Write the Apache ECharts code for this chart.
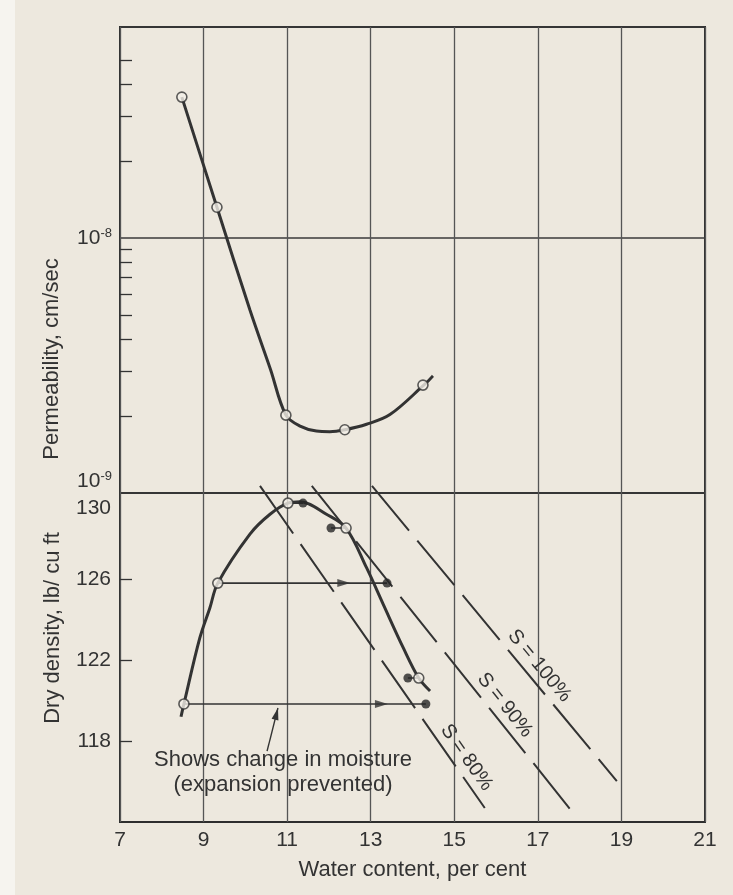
<!DOCTYPE html>
<html>
<head>
<meta charset="utf-8">
<title>Permeability and dry density vs water content</title>
<script src="https://cdn.jsdelivr.net/npm/echarts@6/dist/echarts.min.js"></script>
<style>
  html, body { margin: 0; padding: 0; }
  body { background: linear-gradient(to right, #f6f4ef 0, #f6f4ef 15px, #ede8de 15px); }
  #chart { width: 733px; height: 895px; }
</style>
</head>
<body>
<div id="chart"></div>
<script>
// x axis, water content in per cent
const waterTicks = [7, 9, 11, 13, 15, 17, 19, 21];

// permeability tests (cm/sec)
const permWater = [8.48, 9.32, 10.97, 12.38, 14.25];
const permValue = [3.57e-8, 1.32e-8, 2.02e-9, 1.77e-9, 2.65e-9];
// the drawn curve through them
const permCurveWater = [8.48, 9.32, 10.11, 10.6, 10.97, 11.31, 11.70, 12.02, 12.38, 12.90, 13.46, 14.25, 14.49];
const permCurveValue = [3.57e-8, 1.32e-8, 5.22e-9, 3.06e-9, 2.02e-9, 1.83e-9, 1.75e-9, 1.74e-9, 1.77e-9, 1.86e-9, 2.03e-9, 2.63e-9, 2.88e-9];
const permMinorTicks = [2e-9, 3e-9, 4e-9, 5e-9, 6e-9, 7e-9, 8e-9, 9e-9, 2e-8, 3e-8, 4e-8, 5e-8];

// compaction (open circles) and after soaking (filled circles), lb/cu ft
const mouldWater = [8.53, 9.34, 11.02, 12.41, 14.15];
const mouldDensity = [119.83, 125.8, 129.75, 128.52, 121.11];
const soakWater = [14.32, 13.39, 11.38, 12.05, 13.89];
const arrowTipWater = [13.4, 12.5, null, null, null];
// the drawn compaction curve
const compCurveWater = [8.46, 8.53, 8.91, 9.15, 9.34, 10.11, 10.59, 11.02, 11.31, 11.94, 12.41, 12.90, 13.30, 13.78, 14.15, 14.42];
const compCurveDensity = [119.2, 119.83, 123.09, 124.57, 125.8, 128.22, 129.2, 129.75, 129.82, 129.2, 128.52, 126.56, 124.75, 122.6, 121.11, 120.47];
const densityTicks = [118, 122, 126];

// lines of equal saturation
const satLabels = ['S = 80%', 'S = 90%', 'S = 100%'];
const satWaterStart = [10.35, 11.59, 13.03];
const satWaterEnd = [15.73, 17.81, 18.89];
const satDensityStart = [130.6, 130.6, 130.6];
const satDensityEnd = [114.69, 114.54, 116.02];
const satLabelWater = [15.02, 15.95, 16.78];

// note arrow
const noteWater = [10.52, 10.78];
const noteDensity = [117.5, 119.63];

const ink = '#333';
const paper = '#f3efe7';
const font = '"Liberation Sans", Arial, sans-serif';
const arrowPath = 'path://M0,0 L12,4 L0,8 Z';

const chart = echarts.init(document.getElementById('chart'));

const series = [];
series.push({
  type: 'line', xAxisIndex: 0, yAxisIndex: 0,
  data: permCurveWater.map((w, i) => [w, Math.log10(permCurveValue[i])]),
  smooth: 0.35, symbol: 'none', silent: true, z: 3,
  lineStyle: { color: ink, width: 3 }
});
series.push({
  type: 'scatter', xAxisIndex: 0, yAxisIndex: 0,
  data: permWater.map((w, i) => [w, Math.log10(permValue[i])]),
  symbol: 'circle', symbolSize: 10, z: 5,
  itemStyle: { color: paper, borderColor: ink, borderWidth: 1.6 }
});
series.push({
  type: 'line', xAxisIndex: 1, yAxisIndex: 2,
  data: compCurveWater.map((w, i) => [w, compCurveDensity[i]]),
  smooth: 0.35, symbol: 'none', silent: true, z: 3,
  lineStyle: { color: ink, width: 3 }
});
// moisture change lines
mouldWater.forEach((w, i) => {
  const d = mouldDensity[i];
  series.push({
    type: 'line', xAxisIndex: 1, yAxisIndex: 2,
    data: [[w, d], [soakWater[i], d]],
    symbol: 'none', silent: true, z: 2,
    lineStyle: { color: ink, width: 1.6 }
  });
});
// arrow heads on the two long ones
series.push({
  type: 'scatter', xAxisIndex: 1, yAxisIndex: 2, silent: true, z: 4,
  data: arrowTipWater.map((w, i) => w == null ? null : [w, mouldDensity[i]]).filter(p => p),
  symbol: arrowPath, symbolSize: [13, 8], symbolKeepAspect: false, symbolOffset: [-6, 0],
  itemStyle: { color: ink }
});
series.push({
  type: 'scatter', xAxisIndex: 1, yAxisIndex: 2,
  data: mouldWater.map((w, i) => [w, mouldDensity[i]]),
  symbol: 'circle', symbolSize: 10, z: 5,
  itemStyle: { color: paper, borderColor: ink, borderWidth: 1.6 }
});
series.push({
  type: 'scatter', xAxisIndex: 1, yAxisIndex: 2,
  data: soakWater.map((w, i) => [w, mouldDensity[i]]),
  symbol: 'circle', symbolSize: 9, z: 5,
  itemStyle: { color: '#262626' }
});
satLabels.forEach((lab, i) => {
  series.push({
    type: 'line', xAxisIndex: 1, yAxisIndex: 2, clip: false,
    data: [[satWaterStart[i], satDensityStart[i]], [satWaterEnd[i], satDensityEnd[i]]],
    symbol: 'none', silent: true, z: 2,
    lineStyle: { color: ink, width: 2, type: [58, 13] }
  });
});
series.push({
  type: 'line', xAxisIndex: 1, yAxisIndex: 2,
  data: [[noteWater[0], noteDensity[0]], [noteWater[1], noteDensity[1]]],
  symbol: 'none', silent: true,
  lineStyle: { color: ink, width: 1.4 }
});

const gridLine = { show: true, lineStyle: { color: '#555', width: 1.3 } };
const labelStyle = { color: ink, fontSize: 21, fontFamily: font };
const supStyle = { color: ink, fontSize: 13, fontFamily: font, padding: [0, 0, 10, 0] };

const option = {
  animation: false,
  grid: [
    { left: 120, top: 27, width: 585, height: 466, show: true, borderColor: '#2e2e2e', borderWidth: 2, outerBoundsMode: 'none' },
    { left: 120, top: 493, width: 585, height: 329, show: true, borderColor: '#2e2e2e', borderWidth: 2, outerBoundsMode: 'none' }
  ],
  xAxis: [
    { gridIndex: 0, type: 'value', min: waterTicks[0], max: waterTicks[waterTicks.length - 1], interval: 2,
      axisLine: { show: false }, axisTick: { show: false }, axisLabel: { show: false }, splitLine: gridLine },
    { gridIndex: 1, type: 'value', min: waterTicks[0], max: waterTicks[waterTicks.length - 1], interval: 2,
      axisLine: { show: false }, axisTick: { show: false }, splitLine: gridLine,
      axisLabel: Object.assign({ margin: 8, customValues: waterTicks }, labelStyle),
      name: 'Water content, per cent', nameLocation: 'middle', nameGap: 37,
      nameTextStyle: { color: ink, fontSize: 22, fontFamily: font } }
  ],
  yAxis: [
    { gridIndex: 0, position: 'left', type: 'value', min: -9, max: -7.1725, interval: 1,
      axisLine: { show: false }, axisTick: { show: false },
      splitLine: { show: true, lineStyle: { color: '#3a3a3a', width: 1.5 } },
      axisLabel: { customValues: [-8], margin: 8, formatter: v => '{b|10}{s|' + v + '}',
        rich: { b: labelStyle, s: supStyle } } },
    { gridIndex: 0, position: 'left', type: 'value', min: -9, max: -7.1725,
      axisLine: { show: false }, splitLine: { show: false },
      axisTick: { show: true, inside: true, length: 12, customValues: permMinorTicks.map(Math.log10), lineStyle: { color: ink, width: 1.3 } },
      axisLabel: { customValues: [-9], margin: 8, verticalAlign: 'bottom', formatter: v => '{b|10}{s|' + v + '}',
        rich: { b: labelStyle, s: supStyle } } },
    { gridIndex: 1, position: 'left', type: 'value', min: 114, max: 130.25,
      axisLine: { show: false }, splitLine: { show: false },
      axisTick: { show: true, inside: true, length: 12, customValues: densityTicks, lineStyle: { color: ink, width: 1.3 } },
      axisLabel: Object.assign({ customValues: densityTicks, margin: 9 }, labelStyle) },
    { gridIndex: 1, position: 'left', type: 'value', min: 114, max: 130.25,
      axisLine: { show: false }, splitLine: { show: false }, axisTick: { show: false },
      axisLabel: Object.assign({ customValues: [130], margin: 9, verticalAlign: 'top' }, labelStyle) }
  ],
  series: series
};
chart.setOption(option);

// text and the note arrow head, placed from data coordinates
const toPx = p => chart.convertToPixel({ xAxisIndex: 1, yAxisIndex: 2 }, p);
const graphics = [
  { type: 'text', x: 52, y: 359, rotation: Math.PI / 2,
    style: { text: 'Permeability, cm/sec', fill: ink, fontSize: 22, fontFamily: font, align: 'center', verticalAlign: 'middle' } },
  { type: 'text', x: 53, y: 628, rotation: Math.PI / 2,
    style: { text: 'Dry density, lb/ cu ft', fill: ink, fontSize: 22, fontFamily: font, align: 'center', verticalAlign: 'middle' } },
  { type: 'text', x: 283, y: 772,
    style: { text: 'Shows change in moisture\n(expansion prevented)', fill: ink, fontSize: 22, lineHeight: 25, fontFamily: font, align: 'center', verticalAlign: 'middle' } }
];
const n0 = toPx([noteWater[0], noteDensity[0]]);
const n1 = toPx([noteWater[1], noteDensity[1]]);
const nAng = Math.atan2(n1[1] - n0[1], n1[0] - n0[0]);
graphics.push({
  type: 'polygon', x: n1[0], y: n1[1], rotation: -nAng, z: 10,
  shape: { points: [[0, 0], [-12, -3.5], [-12, 3.5]] },
  style: { fill: ink }
});
satLabels.forEach((lab, i) => {
  const a = toPx([satWaterStart[i], satDensityStart[i]]);
  const b = toPx([satWaterEnd[i], satDensityEnd[i]]);
  const t = (satLabelWater[i] - satWaterStart[i]) / (satWaterEnd[i] - satWaterStart[i]);
  const px = a[0] + t * (b[0] - a[0]);
  const py = a[1] + t * (b[1] - a[1]);
  const ang = Math.atan2(b[1] - a[1], b[0] - a[0]);
  graphics.push({
    type: 'text', x: px + 14 * Math.sin(ang), y: py - 14 * Math.cos(ang), rotation: -ang, z: 10,
    style: { text: lab, fill: ink, fontSize: 20, fontFamily: font, align: 'center', verticalAlign: 'middle' }
  });
});
chart.setOption({ graphic: graphics });
</script>
</body>
</html>
